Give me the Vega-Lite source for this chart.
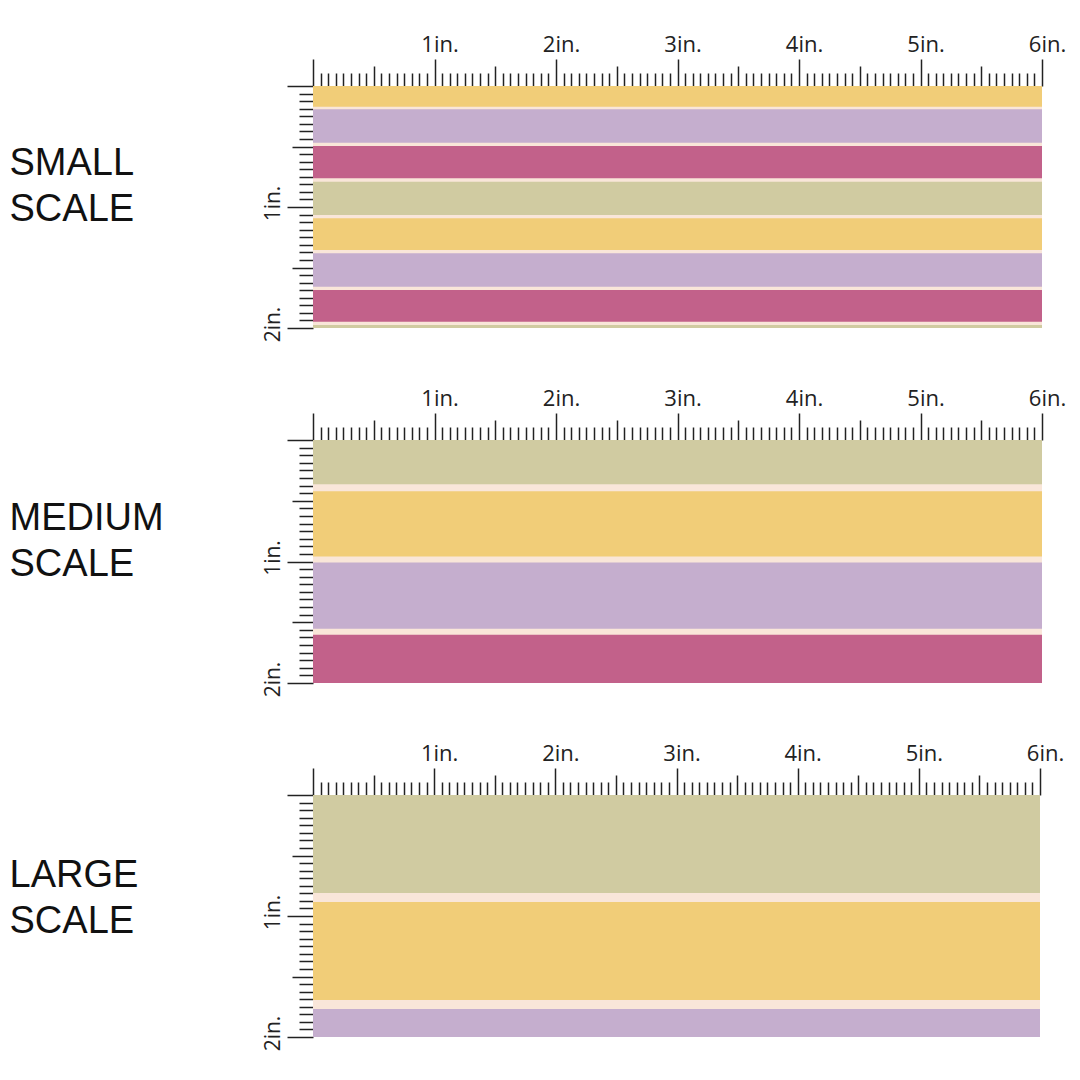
{
  "$schema": "https://vega.github.io/schema/vega-lite/v6.json",
  "background": "white",
  "padding": {"left": 9, "top": 33, "right": 0, "bottom": 0},
  "bounds": "flush",
  "spacing": 112,
  "config": {"view": {"stroke": null}},
  "data": {"values": [
    {"panel": "small", "part": "gap", "y0": 0, "y1": 2},
    {"panel": "small", "part": "yellow", "y0": 0, "y1": 0.171},
    {"panel": "small", "part": "purple", "y0": 0.193, "y1": 0.469},
    {"panel": "small", "part": "magenta", "y0": 0.496, "y1": 0.763},
    {"panel": "small", "part": "khaki", "y0": 0.791, "y1": 1.066},
    {"panel": "small", "part": "yellow", "y0": 1.093, "y1": 1.355},
    {"panel": "small", "part": "purple", "y0": 1.383, "y1": 1.659},
    {"panel": "small", "part": "magenta", "y0": 1.686, "y1": 1.948},
    {"panel": "small", "part": "khaki", "y0": 1.975, "y1": 2},
    {"panel": "medium", "part": "gap", "y0": 0, "y1": 2},
    {"panel": "medium", "part": "khaki", "y0": 0, "y1": 0.364},
    {"panel": "medium", "part": "yellow", "y0": 0.421, "y1": 0.959},
    {"panel": "medium", "part": "purple", "y0": 1.008, "y1": 1.554},
    {"panel": "medium", "part": "magenta", "y0": 1.603, "y1": 2},
    {"panel": "large", "part": "gap", "y0": 0, "y1": 2},
    {"panel": "large", "part": "khaki", "y0": 0, "y1": 0.81},
    {"panel": "large", "part": "yellow", "y0": 0.884, "y1": 1.694},
    {"panel": "large", "part": "purple", "y0": 1.769, "y1": 2}
  ]},
  "vconcat": [
    {
      "width": 729, "height": 242,
      "transform": [{"filter": "datum.panel === 'small'"}],
      "mark": {"type": "rect"},
      "encoding": {
        "x": {"datum": 0, "type": "quantitative", "scale": {"domain": [0, 6], "nice": false, "zero": false},
          "axis": {"orient": "top", "title": null, "domain": false, "grid": false,
            "values": [0,0.0625,0.125,0.1875,0.25,0.3125,0.375,0.4375,0.5,0.5625,0.625,0.6875,0.75,0.8125,0.875,0.9375,1,1.0625,1.125,1.1875,1.25,1.3125,1.375,1.4375,1.5,1.5625,1.625,1.6875,1.75,1.8125,1.875,1.9375,2,2.0625,2.125,2.1875,2.25,2.3125,2.375,2.4375,2.5,2.5625,2.625,2.6875,2.75,2.8125,2.875,2.9375,3,3.0625,3.125,3.1875,3.25,3.3125,3.375,3.4375,3.5,3.5625,3.625,3.6875,3.75,3.8125,3.875,3.9375,4,4.0625,4.125,4.1875,4.25,4.3125,4.375,4.4375,4.5,4.5625,4.625,4.6875,4.75,4.8125,4.875,4.9375,5,5.0625,5.125,5.1875,5.25,5.3125,5.375,5.4375,5.5,5.5625,5.625,5.6875,5.75,5.8125,5.875,5.9375,6],
            "tickColor": "#222", "tickWidth": 1.5,
            "tickSize": {"condition": [{"test": "datum.value % 1 === 0", "value": 27}, {"test": "datum.value % 0.5 === 0", "value": 20}], "value": 13},
            "labelExpr": "datum.value % 1 === 0 && datum.value > 0 ? datum.value + 'in.' : ''",
            "labelFont": "Open Sans", "labelFontSize": 22, "labelColor": "#222",
            "labelPadding": 3, "labelOffset": 5, "labelOverlap": false, "labelFlush": false, "labelBound": false}},
        "x2": {"datum": 6},
        "y": {"field": "y0", "type": "quantitative", "scale": {"domain": [0, 2], "reverse": true, "nice": false, "zero": false},
          "axis": {"orient": "left", "domain": false, "grid": false,
            "values": [0,0.0625,0.125,0.1875,0.25,0.3125,0.375,0.4375,0.5,0.5625,0.625,0.6875,0.75,0.8125,0.875,0.9375,1,1.0625,1.125,1.1875,1.25,1.3125,1.375,1.4375,1.5,1.5625,1.625,1.6875,1.75,1.8125,1.875,1.9375,2],
            "tickColor": "#222", "tickWidth": 1.5,
            "tickSize": {"condition": [{"test": "datum.value % 1 === 0", "value": 26}, {"test": "datum.value % 0.5 === 0", "value": 21}], "value": 14},
            "labelExpr": "datum.value % 1 === 0 && datum.value > 0 ? datum.value + 'in.' : ''",
            "labelFont": "Open Sans", "labelFontSize": 21, "labelColor": "#222",
            "labelAngle": 270, "labelAlign": "center", "labelBaseline": "bottom",
            "labelPadding": 4, "labelOffset": -4, "labelOverlap": false, "labelFlush": false, "labelBound": false,
            "title": ["SMALL", "SCALE"], "titleAngle": 0, "titleAlign": "left", "titleBaseline": "alphabetic",
            "titleX": -304, "titleY": 88, "titleFont": "Liberation Sans", "titleFontSize": 38, "titleFontWeight": "normal",
            "titleColor": "#111", "titleLineHeight": 46}},
        "y2": {"field": "y1"},
        "color": {"field": "part", "type": "nominal", "legend": null,
          "scale": {"domain": ["gap", "yellow", "purple", "magenta", "khaki"], "range": ["#F9E6D9", "#F1CD78", "#C5AECE", "#C2618A", "#D0CBA1"]}}
      }
    },
    {
      "width": 729, "height": 243,
      "transform": [{"filter": "datum.panel === 'medium'"}],
      "mark": {"type": "rect"},
      "encoding": {
        "x": {"datum": 0, "type": "quantitative", "scale": {"domain": [0, 6], "nice": false, "zero": false},
          "axis": {"orient": "top", "title": null, "domain": false, "grid": false,
            "values": [0,0.0625,0.125,0.1875,0.25,0.3125,0.375,0.4375,0.5,0.5625,0.625,0.6875,0.75,0.8125,0.875,0.9375,1,1.0625,1.125,1.1875,1.25,1.3125,1.375,1.4375,1.5,1.5625,1.625,1.6875,1.75,1.8125,1.875,1.9375,2,2.0625,2.125,2.1875,2.25,2.3125,2.375,2.4375,2.5,2.5625,2.625,2.6875,2.75,2.8125,2.875,2.9375,3,3.0625,3.125,3.1875,3.25,3.3125,3.375,3.4375,3.5,3.5625,3.625,3.6875,3.75,3.8125,3.875,3.9375,4,4.0625,4.125,4.1875,4.25,4.3125,4.375,4.4375,4.5,4.5625,4.625,4.6875,4.75,4.8125,4.875,4.9375,5,5.0625,5.125,5.1875,5.25,5.3125,5.375,5.4375,5.5,5.5625,5.625,5.6875,5.75,5.8125,5.875,5.9375,6],
            "tickColor": "#222", "tickWidth": 1.5,
            "tickSize": {"condition": [{"test": "datum.value % 1 === 0", "value": 27}, {"test": "datum.value % 0.5 === 0", "value": 20}], "value": 13},
            "labelExpr": "datum.value % 1 === 0 && datum.value > 0 ? datum.value + 'in.' : ''",
            "labelFont": "Open Sans", "labelFontSize": 22, "labelColor": "#222",
            "labelPadding": 3, "labelOffset": 5, "labelOverlap": false, "labelFlush": false, "labelBound": false}},
        "x2": {"datum": 6},
        "y": {"field": "y0", "type": "quantitative", "scale": {"domain": [0, 2], "reverse": true, "nice": false, "zero": false},
          "axis": {"orient": "left", "domain": false, "grid": false,
            "values": [0,0.0625,0.125,0.1875,0.25,0.3125,0.375,0.4375,0.5,0.5625,0.625,0.6875,0.75,0.8125,0.875,0.9375,1,1.0625,1.125,1.1875,1.25,1.3125,1.375,1.4375,1.5,1.5625,1.625,1.6875,1.75,1.8125,1.875,1.9375,2],
            "tickColor": "#222", "tickWidth": 1.5,
            "tickSize": {"condition": [{"test": "datum.value % 1 === 0", "value": 26}, {"test": "datum.value % 0.5 === 0", "value": 21}], "value": 14},
            "labelExpr": "datum.value % 1 === 0 && datum.value > 0 ? datum.value + 'in.' : ''",
            "labelFont": "Open Sans", "labelFontSize": 21, "labelColor": "#222",
            "labelAngle": 270, "labelAlign": "center", "labelBaseline": "bottom",
            "labelPadding": 4, "labelOffset": -4, "labelOverlap": false, "labelFlush": false, "labelBound": false,
            "title": ["MEDIUM", "SCALE"], "titleAngle": 0, "titleAlign": "left", "titleBaseline": "alphabetic",
            "titleX": -304, "titleY": 89, "titleFont": "Liberation Sans", "titleFontSize": 38, "titleFontWeight": "normal",
            "titleColor": "#111", "titleLineHeight": 46}},
        "y2": {"field": "y1"},
        "color": {"field": "part", "type": "nominal", "legend": null,
          "scale": {"domain": ["gap", "yellow", "purple", "magenta", "khaki"], "range": ["#F9E6D9", "#F1CD78", "#C5AECE", "#C2618A", "#D0CBA1"]}}
      }
    },
    {
      "width": 727, "height": 242,
      "transform": [{"filter": "datum.panel === 'large'"}],
      "mark": {"type": "rect"},
      "encoding": {
        "x": {"datum": 0, "type": "quantitative", "scale": {"domain": [0, 6], "nice": false, "zero": false},
          "axis": {"orient": "top", "title": null, "domain": false, "grid": false,
            "values": [0,0.0625,0.125,0.1875,0.25,0.3125,0.375,0.4375,0.5,0.5625,0.625,0.6875,0.75,0.8125,0.875,0.9375,1,1.0625,1.125,1.1875,1.25,1.3125,1.375,1.4375,1.5,1.5625,1.625,1.6875,1.75,1.8125,1.875,1.9375,2,2.0625,2.125,2.1875,2.25,2.3125,2.375,2.4375,2.5,2.5625,2.625,2.6875,2.75,2.8125,2.875,2.9375,3,3.0625,3.125,3.1875,3.25,3.3125,3.375,3.4375,3.5,3.5625,3.625,3.6875,3.75,3.8125,3.875,3.9375,4,4.0625,4.125,4.1875,4.25,4.3125,4.375,4.4375,4.5,4.5625,4.625,4.6875,4.75,4.8125,4.875,4.9375,5,5.0625,5.125,5.1875,5.25,5.3125,5.375,5.4375,5.5,5.5625,5.625,5.6875,5.75,5.8125,5.875,5.9375,6],
            "tickColor": "#222", "tickWidth": 1.5,
            "tickSize": {"condition": [{"test": "datum.value % 1 === 0", "value": 27}, {"test": "datum.value % 0.5 === 0", "value": 20}], "value": 13},
            "labelExpr": "datum.value % 1 === 0 && datum.value > 0 ? datum.value + 'in.' : ''",
            "labelFont": "Open Sans", "labelFontSize": 22, "labelColor": "#222",
            "labelPadding": 3, "labelOffset": 5, "labelOverlap": false, "labelFlush": false, "labelBound": false}},
        "x2": {"datum": 6},
        "y": {"field": "y0", "type": "quantitative", "scale": {"domain": [0, 2], "reverse": true, "nice": false, "zero": false},
          "axis": {"orient": "left", "domain": false, "grid": false,
            "values": [0,0.0625,0.125,0.1875,0.25,0.3125,0.375,0.4375,0.5,0.5625,0.625,0.6875,0.75,0.8125,0.875,0.9375,1,1.0625,1.125,1.1875,1.25,1.3125,1.375,1.4375,1.5,1.5625,1.625,1.6875,1.75,1.8125,1.875,1.9375,2],
            "tickColor": "#222", "tickWidth": 1.5,
            "tickSize": {"condition": [{"test": "datum.value % 1 === 0", "value": 26}, {"test": "datum.value % 0.5 === 0", "value": 21}], "value": 14},
            "labelExpr": "datum.value % 1 === 0 && datum.value > 0 ? datum.value + 'in.' : ''",
            "labelFont": "Open Sans", "labelFontSize": 21, "labelColor": "#222",
            "labelAngle": 270, "labelAlign": "center", "labelBaseline": "bottom",
            "labelPadding": 4, "labelOffset": -4, "labelOverlap": false, "labelFlush": false, "labelBound": false,
            "title": ["LARGE", "SCALE"], "titleAngle": 0, "titleAlign": "left", "titleBaseline": "alphabetic",
            "titleX": -304, "titleY": 91, "titleFont": "Liberation Sans", "titleFontSize": 38, "titleFontWeight": "normal",
            "titleColor": "#111", "titleLineHeight": 46}},
        "y2": {"field": "y1"},
        "color": {"field": "part", "type": "nominal", "legend": null,
          "scale": {"domain": ["gap", "yellow", "purple", "magenta", "khaki"], "range": ["#F9E6D9", "#F1CD78", "#C5AECE", "#C2618A", "#D0CBA1"]}}
      }
    }
  ]
}
